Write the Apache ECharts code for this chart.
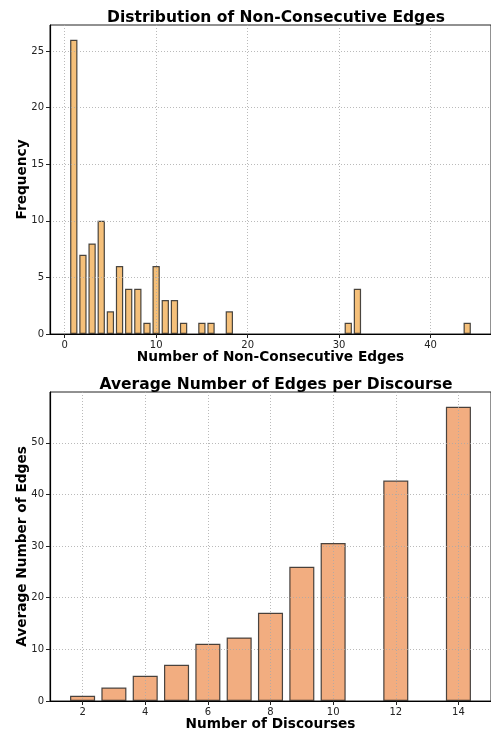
<!DOCTYPE html>
<html>
<head>
<meta charset="utf-8">
<script src="https://cdn.jsdelivr.net/npm/echarts@6/dist/echarts.min.js"></script>
<style>
  html, body { margin: 0; padding: 0; background: #fff; }
  #chart { width: 491px; height: 735px; }
</style>
</head>
<body>
<div id="chart"></div>
<script>
// top histogram
const edgeCounts = [1, 2, 3, 4, 5, 6, 7, 8, 9, 10, 11, 12, 13, 15, 16, 18, 31, 32, 44];
const edgeFreq = [26, 7, 8, 10, 2, 6, 4, 4, 1, 6, 3, 3, 1, 1, 1, 2, 1, 4, 1];
const topXTicks = [0, 10, 20, 30, 40];
const topYTicks = [0, 5, 10, 15, 20, 25];

// bottom bars
const discourses = [2, 3, 4, 5, 6, 7, 8, 9, 10, 12, 14];
const avgEdges = [1.0, 2.6, 4.9, 7.0, 11.1, 12.3, 17.1, 26.0, 30.6, 42.7, 57.0];
const botXTicks = [2, 4, 6, 8, 10, 12, 14];
const botYTicks = [0, 10, 20, 30, 40, 50];

const FONT = 'DejaVu Sans';
const BAR_W = 0.8;

var dom = document.getElementById('chart');
var myChart = echarts.init(dom, null, { renderer: 'canvas' });

function xAxisCfg(idx, min, max, ticks, name) {
    return {
        type: 'value',
        gridIndex: idx,
        min: min,
        max: max,
        z: 3,
        name: name,
        nameLocation: 'middle',
        nameGap: 16,
        nameMoveOverlap: false,
        nameTextStyle: { fontFamily: FONT, fontWeight: 'bold', fontSize: 13.7, color: '#000', verticalAlign: 'top' },
        axisLine: { onZero: false, lineStyle: { color: '#000', width: 1.2 } },
        axisTick: { show: true, length: 4, customValues: ticks, lineStyle: { color: '#222' } },
        axisLabel: { customValues: ticks, fontFamily: FONT, fontSize: 10, color: '#222', margin: 6 },
        splitLine: { show: true, lineStyle: { color: '#a8a8a8', type: [1, 2], width: 0.8 } }
    };
}

function yAxisCfg(idx, max, ticks, name) {
    return {
        type: 'value',
        gridIndex: idx,
        min: 0,
        max: max,
        z: 3,
        name: name,
        nameLocation: 'middle',
        nameGap: 21,
        nameRotate: 90,
        nameMoveOverlap: false,
        nameTextStyle: { fontFamily: FONT, fontWeight: 'bold', fontSize: 13.7, color: '#000' },
        axisLine: { show: true, onZero: false, lineStyle: { color: '#000', width: 1.2 } },
        axisTick: { show: true, length: 4, customValues: ticks, lineStyle: { color: '#222' } },
        axisLabel: { customValues: ticks, fontFamily: FONT, fontSize: 10, color: '#222', margin: 6 },
        splitLine: { show: true, lineStyle: { color: '#a8a8a8', type: [1, 2], width: 0.8 } }
    };
}

const option = {
    backgroundColor: '#fff',
    animation: false,
    title: [
        {
            text: 'Distribution of Non-Consecutive Edges',
            left: 271, top: 5, textAlign: 'center',
            textStyle: { fontFamily: FONT, fontWeight: 'bold', fontSize: 15.5, color: '#000' }
        },
        {
            text: 'Average Number of Edges per Discourse',
            left: 271, top: 372, textAlign: 'center',
            textStyle: { fontFamily: FONT, fontWeight: 'bold', fontSize: 15.5, color: '#000' }
        }
    ],
    grid: [
        { left: 50, right: -3, top: 25, bottom: 401, show: true, borderColor: '#222', borderWidth: 1, backgroundColor: 'transparent' },
        { left: 50, right: -3, top: 392, bottom: 34, show: true, borderColor: '#222', borderWidth: 1, backgroundColor: 'transparent' }
    ],
    xAxis: [
        xAxisCfg(0, -1.6, 46.6, topXTicks, 'Number of Non-Consecutive Edges'),
        xAxisCfg(1, 0.96, 15.04, botXTicks, 'Number of Discourses')
    ],
    yAxis: [
        yAxisCfg(0, 27.3, topYTicks, 'Frequency'),
        yAxisCfg(1, 59.85, botYTicks, 'Average Number of Edges')
    ],
    series: [
        {
            type: 'bar',
            xAxisIndex: 0,
            yAxisIndex: 0,
            barWidth: 7,
            data: edgeCounts.map((x, i) => [x, edgeFreq[i]]),
            itemStyle: { color: '#f5c07a', borderColor: 'rgba(30,30,30,0.8)', borderWidth: 1.2 }
        },
        {
            type: 'bar',
            xAxisIndex: 1,
            yAxisIndex: 1,
            barWidth: 25,
            data: discourses.map((x, i) => [x, avgEdges[i]]),
            itemStyle: { color: '#f2ad80', borderColor: 'rgba(30,30,30,0.8)', borderWidth: 1.2 }
        }
    ]
};

myChart.setOption(option);

// bar width = 0.8 data units on each x axis
function unitWidth(gridIdx) {
    const a = myChart.convertToPixel({ xAxisIndex: gridIdx }, 0);
    const b = myChart.convertToPixel({ xAxisIndex: gridIdx }, BAR_W);
    return Math.abs(b - a);
}
myChart.setOption({
    series: [
        { barWidth: unitWidth(0) },
        { barWidth: unitWidth(1) }
    ]
});

window.addEventListener('resize', myChart.resize);
</script>
</body>
</html>
